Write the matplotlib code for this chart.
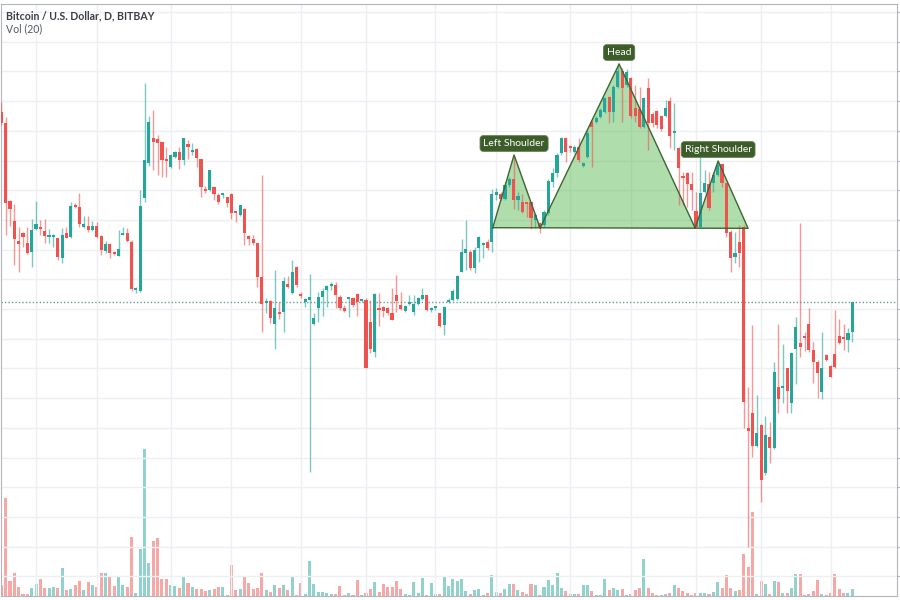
import numpy as np
from matplotlib import pyplot as plt

plt.close("all")

#------------------------- BTC/USD daily, BITBAY -------------------------

opens = [10003, 9893, 9113, 8910, 8713, 8787, 8693, 8603, 8827, 8843,
         8810, 8747, 8747, 8737, 8537, 8793, 8753, 9060, 9053, 8847,
         8860, 8820, 8863, 8760, 8613, 8680, 8603, 8563, 8773, 8787,
         8703, 8220, 8213, 9137, 9493, 9737, 9727, 9703, 9520, 9447,
         9547, 9603, 9520, 9680, 9603, 9627, 9530, 9230, 9220, 9253,
         9170, 9173, 9147, 9180, 8993, 8970, 9027, 8760, 8727, 8693,
         8353, 8087, 8113, 7880, 7997, 7997, 8280, 8187, 8447, 8180,
         8097, 8120, 7880, 8037, 8153, 8220, 8265, 8270, 8153, 8037,
         8130, 8137, 8177, 8113, 8120, 7903, 7603, 8033, 8047, 8043,
         7993, 8170, 8067, 8013, 8080, 8003, 8080, 8130, 8170, 8020,
         8037, 7993, 7870, 8103, 8120, 8127, 8403, 8587, 8603, 8437,
         8637, 8670, 8703, 8703, 9170, 9180, 9127, 9270, 9327, 9120,
         9103, 9093, 9103, 8920, 8887, 8870, 8987, 9303, 9393, 9587,
         9737, 9647, 9603, 9647, 9460, 9553, 9903, 9903, 9953, 10003,
         10147, 10003, 10253, 10413, 10270, 10337, 10037, 10027, 9847, 10237,
         9980, 10013, 9960, 9960, 10110, 9787, 9637, 9350, 9387, 9280,
         9013, 8853, 9203, 9280, 9287, 9370, 9480, 9287, 8803, 8553,
         8703, 8853, 6837, 6987, 6660, 6870, 6387, 6747, 6637, 7253,
         7243, 7437, 7093, 7627, 7687, 7753, 7880, 7620, 7503, 7203,
         7570, 7460, 7580, 7760, 7747, 7720, 7803]

highs = [10103, 9953, 9120, 9080, 8853, 8803, 8853, 8927, 9113, 8920,
         8927, 8827, 8780, 8737, 8837, 8853, 9103, 9087, 9187, 8960,
         8960, 8910, 8897, 8770, 8713, 8693, 8613, 8820, 8853, 8843,
         8720, 8253, 9220, 10287, 9960, 10020, 9770, 9703, 9653, 9580,
         9613, 9653, 9737, 9720, 9693, 9637, 9530, 9260, 9420, 9260,
         9193, 9193, 9153, 9187, 9013, 9070, 9037, 8770, 8770, 8693,
         9370, 8137, 8120, 8420, 8103, 8353, 8360, 8520, 8460, 8203,
         8137, 8380, 7990, 8203, 8237, 8270, 8303, 8303, 8170, 8070,
         8143, 8153, 8187, 8130, 8137, 8120, 8187, 8187, 8060, 8053,
         8237, 8370, 8203, 8070, 8170, 8170, 8153, 8237, 8170, 8047,
         8060, 7993, 8060, 8137, 8227, 8370, 8727, 8920, 8620, 8653,
         8760, 8703, 8727, 9227, 9237, 9203, 9303, 9353, 9570, 9203,
         9180, 9103, 9103, 8987, 8903, 9020, 9327, 9437, 9587, 9753,
         9753, 9670, 9670, 9737, 9503, 9820, 9920, 9960, 10037, 10153,
         10160, 10270, 10487, 10437, 10427, 10353, 10270, 10253, 10147, 10337,
         10003, 10020, 9970, 10120, 10147, 10090, 9653, 9403, 9403, 9403,
         9203, 9587, 9420, 9403, 9403, 9513, 9480, 9293, 8820, 8803,
         8870, 8870, 7253, 7870, 7170, 6880, 6960, 6903, 7503, 7880,
         7680, 7437, 7603, 7953, 8887, 7803, 8037, 7703, 7520, 7803,
         7580, 7470, 8020, 7927, 7880, 7837, 8103]

lows = [9870, 8770, 8860, 8470, 8403, 8653, 8580, 8447, 8820, 8770,
        8693, 8687, 8653, 8520, 8493, 8737, 8737, 9037, 8853, 8837,
        8803, 8813, 8737, 8570, 8593, 8537, 8570, 8560, 8770, 8703,
        8213, 8187, 8203, 9103, 9460, 9420, 9370, 9353, 9353, 9437,
        9537, 9427, 9470, 9527, 9570, 9447, 9153, 9187, 9213, 9120,
        9080, 9137, 9053, 8927, 8903, 8960, 8670, 8670, 8670, 8253,
        7803, 7987, 7887, 7627, 7927, 7803, 8237, 8180, 8253, 8137,
        8047, 6403, 7870, 7903, 7960, 8053, 8220, 8037, 8020, 8003,
        7953, 8053, 7960, 8100, 7437, 7587, 7553, 7860, 7953, 7970,
        7920, 8003, 8020, 8003, 8070, 7970, 8070, 8120, 8013, 8003,
        8020, 7853, 7770, 8093, 8113, 8120, 8403, 8420, 8420, 8387,
        8503, 8537, 8620, 8603, 9120, 9120, 9120, 9253, 9027, 9020,
        8987, 8953, 8827, 8837, 8787, 8853, 8970, 9253, 9353, 9570,
        9503, 9603, 9587, 9503, 9453, 9537, 9453, 9887, 9937, 9987,
        9893, 9903, 10240, 9903, 10253, 9937, 9903, 9837, 9837, 9620,
        9853, 9837, 9813, 9947, 9637, 9620, 9070, 9070, 9053, 9020,
        8853, 8850, 9187, 9020, 9203, 9360, 9253, 8753, 8403, 8487,
        8453, 6837, 5653, 6553, 6653, 6103, 6370, 6487, 6627, 6987,
        7087, 6987, 6987, 7280, 7553, 7613, 7603, 7287, 7137, 7127,
        7513, 7347, 7437, 7680, 7620, 7603, 7703]

closes = [9893, 9087, 9027, 8727, 8680, 8753, 8587, 8820, 8880, 8827,
          8763, 8760, 8770, 8553, 8770, 8743, 9060, 9047, 8880, 8880,
          8820, 8863, 8747, 8620, 8677, 8593, 8580, 8633, 8787, 8713,
          8227, 8237, 9060, 9520, 9903, 9703, 9693, 9520, 9510, 9570,
          9603, 9520, 9737, 9647, 9613, 9537, 9247, 9213, 9420, 9180,
          9103, 9187, 9093, 8993, 8987, 9070, 8787, 8727, 8687, 8347,
          8080, 8103, 7937, 8037, 7980, 8310, 8247, 8397, 8270, 8160,
          8130, 8153, 7937, 8153, 8213, 8260, 8270, 8170, 8037, 8013,
          8143, 8070, 8103, 8120, 7437, 7627, 8180, 8020, 8010, 7993,
          7920, 8113, 8033, 8060, 8097, 8077, 8137, 8170, 8020, 8037,
          8053, 7860, 8053, 8120, 8213, 8360, 8597, 8627, 8437, 8620,
          8747, 8687, 8637, 9180, 9203, 9127, 9270, 9327, 9120, 9160,
          9003, 9080, 8937, 8970, 8853, 9003, 9313, 9393, 9570, 9737,
          9603, 9637, 9653, 9520, 9487, 9793, 9847, 9937, 10020, 10137,
          10003, 10253, 10413, 10237, 10403, 9960, 9960, 9847, 10137, 9893,
          9893, 9870, 9827, 10037, 9760, 9790, 9437, 9340, 9280, 9220,
          8853, 9193, 9293, 9037, 9370, 9470, 9287, 8787, 8537, 8587,
          8587, 7103, 6813, 6660, 6793, 6320, 6770, 6637, 7403, 7127,
          7253, 7213, 7593, 7853, 7653, 7737, 7620, 7503, 7393, 7437,
          7520, 7353, 7447, 7687, 7727, 7793, 8103]

volumes = [11, 98.3, 15, 23.3, 9, 1.7, 1.7, 8.3, 12.3, 16.7,
           8.3, 8.3, 9, 7.7, 27.7, 5.7, 7.3, 11, 15, 5.7,
           14, 11, 9.3, 22.7, 23.3, 19, 10, 19, 11, 9.3,
           59.3, 3, 46.7, 146.7, 33.3, 55, 58.3, 16.7, 17.3, 11,
           10, 8.3, 20, 13.3, 9.3, 7.3, 7.3, 5, 5.7, 7.3,
           9, 9, 0.7, 31, 5.7, 7.3, 19, 13.3, 7.3, 8.3,
           22.7, 5.7, 4, 11, 7.7, 11, 5.7, 19, 1, 13.3,
           2.3, 35, 12.3, 4.3, 4, 2.7, 1.7, 2.3, 10, 1,
           3.3, 1, 15.7, 1, 3.3, 7.3, 14, 4.3, 11.7, 9.3,
           9.3, 15, 6.7, 1.7, 1, 14.3, 3.3, 17.7, 1, 12.7,
           1.7, 1.7, 20, 10, 17.3, 15, 17.3, 5, 1.7, 5.7,
           6.7, 1, 2.7, 20.7, 4.3, 2.7, 7.3, 11.7, 12.3, 5.7,
           4, 2.3, 11.7, 11, 1, 9.3, 15.7, 11, 23.3, 7.7,
           5, 1.7, 1.7, 1.7, 11, 11, 5, 1, 1, 16.7,
           6, 7.7, 5.7, 6.7, 1, 2.3, 5.7, 8.3, 36.7, 8.3,
           2.7, 1, 1, 1.7, 3.3, 10.7, 8.3, 5, 3.3, 1,
           2.7, 2.7, 2.7, 1.7, 4.3, 14, 8.3, 20.7, 8.3, 5,
           5.7, 41.7, 29, 84, 2.3, 15, 12.3, 2.3, 15, 14,
           3.3, 3.3, 8.3, 21.7, 22.3, 1, 1.7, 5, 15.7, 2.3,
           1, 2.7, 22.3, 6.7, 2.7, 2.7, 7.3]

# head & shoulders outline (candle index, price)
pattern_x = [113.2, 118.1, 124.1, 142.3, 159.8, 165.1, 172.0]
pattern_y = [8843, 9570, 8840, 10480, 8840, 9510, 8837]
labels = ["Left Shoulder", "Head", "Right Shoulder"]
label_pts = [1, 3, 5]

# half-month date gridlines (candle index)
grid_days = [8, 22, 39, 53, 69, 84, 100, 114, 131, 145, 160, 175, 191]
price_grid = [11000 - 297 * k for k in range(20)]

UP = '#26a69a'
DOWN = '#ef5350'

o = np.array(opens)
c = np.array(closes)
h = np.maximum(np.array(highs), np.maximum(o, c))
l = np.minimum(np.array(lows), np.minimum(o, c))
x = np.arange(len(o))
up = c >= o
cols = np.where(up, UP, DOWN)

fig = plt.figure(figsize=(9, 6), dpi=100)
fig.patch.set_facecolor('white')
ax = fig.add_axes([1 / 900, 4 / 600, 896 / 900, 592 / 600])
vax = ax.twinx()

# volume overlay (behind the price)
vax.bar(x, volumes, width=0.7, color=cols, alpha=0.5, linewidth=0)
vax.set_ylim(0, 592)
vax.set_yticks([])
ax.set_zorder(vax.get_zorder() + 1)
ax.patch.set_visible(False)

# candles
ax.vlines(x, l, h, colors=cols, linewidth=1, alpha=0.6, zorder=3)
ax.bar(x, np.maximum(np.abs(c - o), 18), bottom=np.minimum(o, c), width=0.72,
       color=cols, linewidth=0, zorder=4)

# head & shoulders
ax.fill(pattern_x, pattern_y, facecolor='#4fb548', alpha=0.45, edgecolor='none', zorder=2)
ax.plot(pattern_x + [pattern_x[0]], pattern_y + [pattern_y[0]], color='#3d6630', lw=1, zorder=5)
for name, k in zip(labels, label_pts):
    ax.annotate(name, (pattern_x[k], pattern_y[k]), xytext=(0, 11.5), textcoords='offset pixels',
                ha='center', va='center', color='white', fontsize=7.5, family='Lato',
                bbox=dict(boxstyle='round,pad=0.32,rounding_size=0.3', fc='#3c5d2a',
                          ec='#5b7a48', lw=0.6),
                zorder=6)

# last price line
ax.axhline(c[-1], color='#6f9c98', ls=(0, (1, 1.5)), lw=1, zorder=2)

ax.set_xlim(-0.07, 206.3)
ax.set_ylim(5160, 11080)
ax.set_xticks(grid_days)
ax.set_yticks(price_grid)
ax.grid(color='#eceff3', lw=1, zorder=0)
ax.set_axisbelow(True)
ax.yaxis.tick_right()
ax.tick_params(axis='y', length=3, color='#b2b5be', labelright=False, labelleft=False)
ax.tick_params(axis='x', length=0, labelbottom=False)
for s in ax.spines.values():
    s.set_color('#b2b5be')
for s in vax.spines.values():
    s.set_visible(False)

fig.text(6 / 900, 1 - 16 / 600, "Bitcoin / U.S. Dollar, D, BITBAY", fontsize=7.6, family='Lato',
         fontweight='bold', color='#3a3d45', va='center')
fig.text(6 / 900, 1 - 29 / 600, "Vol (20)", fontsize=7.6, family='Lato', color='#55585f', va='center')

fig.savefig('out.png', dpi=100)
